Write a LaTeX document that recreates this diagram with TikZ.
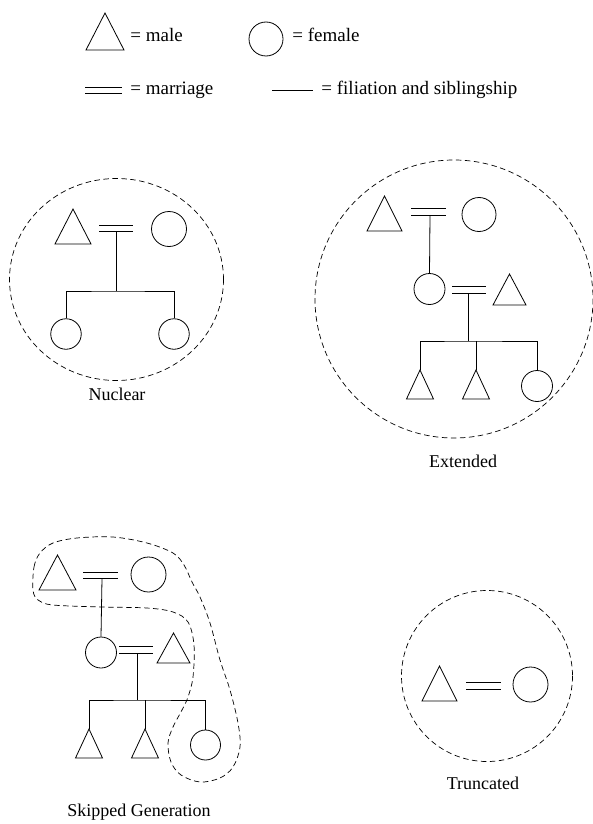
\documentclass[tikz,border=0pt]{standalone}
\usepackage{fontspec}
\setmainfont{Liberation Serif}
\newcommand\marrline[2]{\draw ([yshift=3.2pt]#1) -- ([yshift=3.2pt]#2) ([yshift=-3.2pt]#1) -- ([yshift=-3.2pt]#2);}
\begin{document}
\begin{tikzpicture}[x=1pt,y=-1pt,line width=0.8pt,
  female/.style={draw,circle,inner sep=0pt,minimum size=#1},
  hull/.style={dashed,dash pattern=on 5.5pt off 3.5pt,line width=0.7pt},
  lbl/.style={font=\fontsize{18}{20}\selectfont,inner sep=0pt},
  leg/.style={font=\fontsize{19}{21}\selectfont,inner sep=0pt},
  pics/male/.style 2 args={code={\coordinate (-apex) at (0,0);
     \draw[line join=miter] (0,0) -- (#1/2,#2) -- (-#1/2,#2) -- cycle;}}]
\useasboundingbox (0,0) rectangle (593,824);

% ---------- legend ----------
\pic (Lm) at (105,13) {male={38}{37}};
\node[leg,anchor=base west] (Lmt) at (130,42) {= male};
\node[female=34pt] (Lf) at (266,39) {};
\node[leg,anchor=base west] (Lft) at (292,42) {= female};
\coordinate (Lma) at (85,90.5);
\coordinate (Lmb) at (122,90.5);
\marrline{Lma}{Lmb}
\node[leg,anchor=base west] (Lmrt) at (130,95) {= marriage};
\coordinate (Lsa) at (272,90);
\coordinate (Lsb) at (313,90);
\draw (Lsa) -- (Lsb);
\node[leg,anchor=base west] (Lst) at (321,95) {= filiation and siblingship};

% ---------- Nuclear ----------
\draw[hull] (116.5,279.5) ellipse [x radius=107, y radius=101];
\pic (N1) at (73,209) {male={36}{35}};
\node[female=35pt] (N2) at (169,229) {};
\coordinate (Nma) at (99,228.5);
\coordinate (Nmb) at (133,228.5);
\marrline{Nma}{Nmb}
\coordinate (Nm) at (116,231.7);
\coordinate (Nj) at (116,291);
\draw (Nm) -- (Nj);
\node[female=30.5pt] (N3) at (66,334) {};
\node[female=30.5pt] (N4) at (174,334) {};
\draw (N3.north) |- (Nj) -| (N4.north);
\node[lbl,anchor=base] (Nt) at (117,400) {Nuclear};

% ---------- Extended ----------
\draw[hull] (454,299) circle [radius=139];
\pic (E1) at (384.5,196) {male={35}{35}};
\node[female=34pt] (E2) at (479,214.5) {};
\coordinate (Ema) at (411,212);
\coordinate (Emb) at (446,212);
\marrline{Ema}{Emb}
\coordinate (Em) at (430,215.2);
\node[female=31pt] (E3) at (429.5,289) {};
\draw (Em) -- (E3.north);
\coordinate (Eqa) at (452,290);
\coordinate (Eqb) at (486,290);
\marrline{Eqa}{Eqb}
\pic (E4) at (509.5,274) {male={33}{31}};
\coordinate (Eq) at (468,293.2);
\coordinate (Ej) at (468,341);
\draw (Eq) -- (Ej);
\pic (E5) at (420,370) {male={27}{29}};
\pic (E6) at (476,370) {male={27}{29}};
\node[female=31pt] (E7) at (537,386) {};
\draw (E5-apex) |- (Ej) -| (E7.north);
\coordinate (Ejm) at (476,341);
\draw (Ejm) -- (E6-apex);
\node[lbl,anchor=base] (Et) at (463,467) {Extended};

% ---------- Skipped Generation ----------
\draw[hull] plot[smooth cycle,tension=0.55] coordinates {
 (33,590) (34,567) (40,553) (53,543) (77,538) (113,537) (147,543) (173,553)
 (184,565) (192,582) (200,597) (210,623) (220,660) (230,690) (238,723)
 (240,747) (233,767) (220,778) (200,782) (181,775) (171,762) (168,743)
 (173,727) (182,710) (188,697) (193,677) (194,645) (188,622) (173,612)
 (147,608) (103,607) (53,605) (38,600)};
\pic (S1) at (57.5,555) {male={37}{35}};
\coordinate (Sma) at (83,575.5);
\coordinate (Smb) at (118,575.5);
\marrline{Sma}{Smb}
\node[female=35pt] (S2) at (148.5,574.5) {};
\coordinate (Sm) at (102,578.7);
\node[female=31pt] (S3) at (101,652.5) {};
\draw (Sm) -- (S3.north);
\coordinate (Sqa) at (119,650);
\coordinate (Sqb) at (153,650);
\marrline{Sqa}{Sqb}
\pic (S4) at (173.5,633) {male={33}{30}};
\coordinate (Sq) at (137,653.2);
\coordinate (Sj) at (137,700);
\draw (Sq) -- (Sj);
\pic (S5) at (89,729) {male={27}{29}};
\pic (S6) at (145,729) {male={27}{29}};
\node[female=30pt] (S7) at (205.5,745) {};
\draw (S5-apex) |- (Sj) -| (S7.north);
\coordinate (Sjm) at (145,700);
\draw (Sjm) -- (S6-apex);
\node[lbl,anchor=base] (St) at (139,816) {Skipped Generation};

% ---------- Truncated ----------
\draw[hull] (487,676) circle [radius=85.5];
\pic (T1) at (439.5,666) {male={35}{35}};
\coordinate (Tma) at (466,686);
\coordinate (Tmb) at (501,686);
\marrline{Tma}{Tmb}
\node[female=35pt] (T2) at (530.5,684.5) {};
\node[lbl,anchor=base] (Tt) at (483,789) {Truncated};
\end{tikzpicture}
\end{document}
